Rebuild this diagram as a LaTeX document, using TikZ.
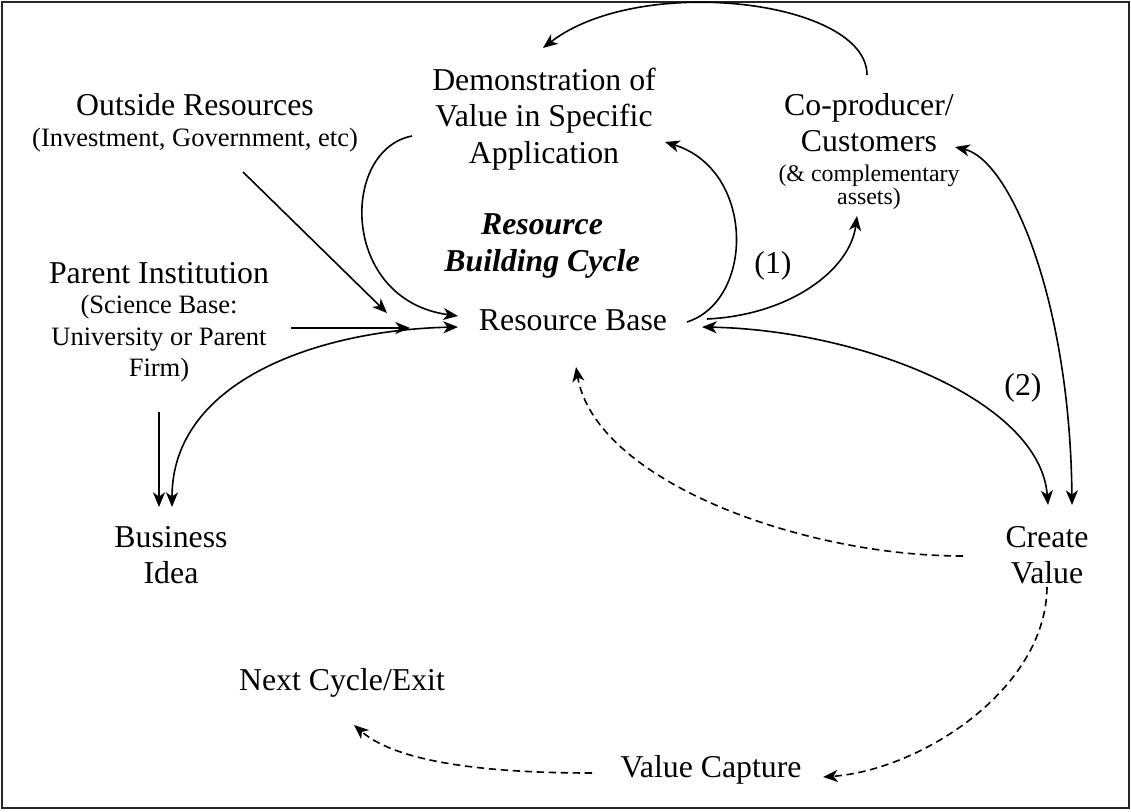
\documentclass[tikz,border=0pt]{standalone}
\usepackage{fontspec}
\setmainfont{Liberation Serif}
\usetikzlibrary{arrows.meta}
\newcommand\mainsz{\fontsize{23.85}{27.4}\selectfont}
\newcommand\smallsz{\fontsize{19.9}{23}\selectfont}
\newcommand\tinysz{\fontsize{17.9}{20.6}\selectfont}
\newcommand\stk[1]{\vtop{\offinterlineskip\halign{\hfil##\hfil\cr#1\crcr}}}
\newcommand\rowkern[1]{\noalign{\kern#1}}
\newcommand\mline[1]{\smash{\mainsz #1}}
\newcommand\sline[1]{\smash{\smallsz #1}}
\newcommand\tline[1]{\smash{\tinysz #1}}
\tikzset{
  lbl/.style={inner sep=0pt, outer sep=0pt, anchor=base},
  arr/.style={line width=1.2pt, >={Stealth[length=11pt,width=9pt,inset=3.2pt]}},
  dsh/.style={arr, dash pattern=on 5.5pt off 3.5pt},
}
\begin{document}
\begin{tikzpicture}[x=0.75pt, y=-0.75pt]
\useasboundingbox (0,0) rectangle (1131,811);
\draw[line width=1.5pt, black!85] (2,2) rectangle (1129,808);

% labels
\node[lbl] (demo) at (544,90) {\stk{\mline{Demonstration of}\cr\rowkern{27.4pt}\mline{Value in Specific}\cr\rowkern{27.4pt}\mline{Application}}};
\node[lbl] (outres) at (195,115) {\stk{\mline{Outside Resources}\cr\rowkern{23.25pt}\sline{(Investment, Government, etc)}}};
\node[lbl] (parent) at (159,283) {\stk{\mline{Parent Institution}\cr\rowkern{22.5pt}\sline{(Science Base:}\cr\rowkern{24pt}\sline{University or Parent}\cr\rowkern{23.25pt}\sline{Firm)}}};
\node[lbl] (copro) at (869,115) {\stk{\mline{Co-producer/}\cr\rowkern{27pt}\mline{Customers}\cr\rowkern{22.5pt}\tline{(\& complementary}\cr\rowkern{17.5pt}\tline{assets)}}};
\node[lbl] (rbc) at (542,234) {\stk{\mline{\bfseries\itshape Resource}\cr\rowkern{27.75pt}\mline{\bfseries\itshape Building Cycle}}};
\node[lbl, font=\mainsz] (rb) at (573,330) {Resource Base};
\node[lbl, font=\mainsz] (one) at (773,273) {(1)};
\node[lbl, font=\mainsz] (two) at (1023,395) {(2)};
\node[lbl] (bidea) at (171,547) {\stk{\mline{Business}\cr\rowkern{27pt}\mline{Idea}}};
\node[lbl] (cval) at (1047,547) {\stk{\mline{Create}\cr\rowkern{27pt}\mline{Value}}};
\node[lbl, font=\mainsz] (next) at (342,690) {Next Cycle/Exit};
\node[lbl, font=\mainsz] (vcap) at (711,777) {Value Capture};

% connectors
\draw[arr,->] ([shift={(-2,-40)}]copro.base) .. controls (867,0) and (640,-27) .. ([shift={(-1,-42)}]demo.base);
\draw[arr,->] ([shift={(-132,46)}]demo.base) .. controls (340,150) and (340,300) .. ([shift={(-115,-14)}]rb.base);
\draw[arr,->] ([shift={(48,57)}]outres.base) -- ([shift={(-186,-17)}]rb.base);
\draw[arr,->] ([shift={(132,45)}]parent.base) -- ([shift={(-163,-2)}]rb.base);
\draw[arr,<->] ([shift={(-115,-3)}]rb.base) .. controls (320,330) and (172,380) .. ([shift={(1,-40)}]bidea.base);
\draw[arr,->] ([shift={(0,129)}]parent.base) -- ([shift={(-12,-40)}]bidea.base);
\draw[arr,->] ([shift={(114,-8)}]rb.base) .. controls (755,300) and (755,170) .. ([shift={(121,52)}]demo.base);
\draw[arr,->] ([shift={(134,-11)}]rb.base) .. controls (790,315) and (850,270) .. ([shift={(-12,101)}]copro.base);
\draw[arr,<->] ([shift={(129,-3)}]rb.base) .. controls (860,330) and (1040,400) .. ([shift={(1,-42)}]cval.base);
\draw[arr,<->] ([shift={(86,32)}]copro.base) .. controls (1010,160) and (1070,300) .. ([shift={(25,-42)}]cval.base);
\draw[dsh,->] ([shift={(-84,9)}]cval.base) .. controls (800,556) and (595,480) .. ([shift={(3,37)}]rb.base);
\draw[dsh,->] ([shift={(0,40)}]cval.base) .. controls (1046,690) and (920,770) .. ([shift={(112,0)}]vcap.base);
\draw[dsh,->] ([shift={(-119,-4)}]vcap.base) .. controls (500,773) and (400,765) .. ([shift={(12,35)}]next.base);
\end{tikzpicture}
\end{document}
